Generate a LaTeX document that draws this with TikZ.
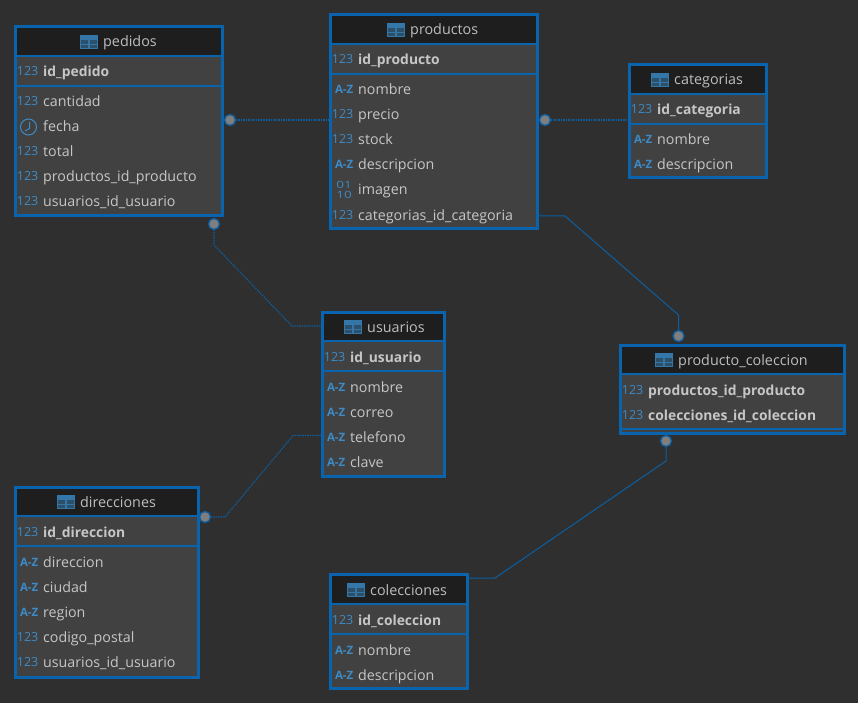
\documentclass[tikz,border=0pt]{standalone}
\usepackage{fontspec}
\setmainfont{Open Sans}
\definecolor{canvasbg}{HTML}{2F2F2F}
\definecolor{headbg}{HTML}{1E1E1E}
\definecolor{bodybg}{HTML}{414141}
\definecolor{borderblue}{HTML}{0A64AD}
\definecolor{relblue}{HTML}{0B5FA2}
\definecolor{iconblue}{HTML}{3D8BC6}
\definecolor{tabletxt}{HTML}{C6C6C6}
\definecolor{titletxt}{HTML}{BEBEBE}
\definecolor{dotgrey}{HTML}{7E7E7E}
\tikzset{
  tablebox/.style={draw=borderblue,line width=3pt,inner sep=0pt,outer sep=0pt,rectangle},
  sepline/.style={draw=borderblue,line width=2.4pt},
  fieldtxt/.style={anchor=base west,inner sep=0pt,text=tabletxt,font=\fontsize{14.25}{16}\selectfont},
  keytxt/.style={anchor=base west,inner sep=0pt,text=tabletxt,font=\fontsize{13.85}{16}\selectfont\bfseries},
  titlenode/.style={anchor=base west,inner sep=0pt,text=titletxt,font=\fontsize{14.35}{16}\selectfont},
  typetxt/.style={anchor=base east,inner sep=0pt,text=iconblue,font=\fontsize{12.5}{16}\selectfont},
  aztxt/.style={anchor=base east,inner sep=0pt,text=iconblue,font=\fontsize{11.5}{16}\selectfont\bfseries},
  bintxt/.style={anchor=center,inner sep=0pt,text=iconblue,font=\fontsize{10}{10}\selectfont},
  reldot/.style={circle,fill=dotgrey,draw=relblue,line width=1.3pt,minimum size=11pt,inner sep=0pt,outer sep=0pt},
  relsolid/.style={draw=relblue,line width=1pt},
  reldotted/.style={draw=relblue,line width=1.1pt,dash pattern=on 1.5pt off 1pt},
}
\newcount\rowc
\newcommand{\erTable}[8]{% name x1 y1 x2 y2 s1 s2 title-unused
  \fill[headbg] (#2,#3) rectangle (#4,#6);
  \fill[bodybg] (#2,#6) rectangle (#4,#5);
  \draw[sepline] (#2,#6) -- (#4,#6);
  \draw[sepline] (#2,#7) -- (#4,#7);
  \pgfmathsetmacro{\bw}{#4-#2}\pgfmathsetmacro{\bh}{#5-#3}
  \pgfmathsetmacro{\cx}{(#2+#4)/2}\pgfmathsetmacro{\cy}{(#3+#5)/2}
  \node[tablebox,minimum width=\bw pt,minimum height=\bh pt] (#1) at (\cx,\cy) {};
}
\newcommand{\erTitle}[3]{% iconx y text
  \begin{scope}[shift={(#1,#2)}]
    \fill[iconblue!85!black] (0,-7) rectangle (18,7);
    \fill[headbg!55!iconblue] (1.3,-2) rectangle (8.4,1.8);
    \fill[headbg!55!iconblue] (9.6,-2) rectangle (16.7,1.8);
    \fill[headbg!55!iconblue] (1.3,2.8) rectangle (8.4,5.8);
    \fill[headbg!55!iconblue] (9.6,2.8) rectangle (16.7,5.8);
  \end{scope}
  \global\advance\rowc by 1
  \pgfmathsetmacro{\tx}{#1+23}\pgfmathsetmacro{\ty}{#2+5}
  \node[titlenode] (t\the\rowc) at (\tx,\ty) {#3};
}
\newcommand{\erField}[4]{% left y style text
  \global\advance\rowc by 1
  \pgfmathsetmacro{\tx}{#1+28}\pgfmathsetmacro{\ty}{#2+5}
  \node[#3] (f\the\rowc) at (\tx,\ty) {#4};
}
\newcommand{\iconNum}[2]{%
  \global\advance\rowc by 1
  \pgfmathsetmacro{\ix}{#1+23.5}\pgfmathsetmacro{\iy}{#2+4}
  \node[typetxt] (i\the\rowc) at (\ix,\iy) {123};
}
\newcommand{\iconAZ}[2]{%
  \global\advance\rowc by 1
  \pgfmathsetmacro{\ix}{#1+23.5}\pgfmathsetmacro{\iy}{#2+4}
  \node[aztxt] (i\the\rowc) at (\ix,\iy) {A-Z};
}
\newcommand{\iconClock}[2]{%
  \begin{scope}[shift={(#1+13.5,#2)}]
    \draw[iconblue,line width=1pt] (0,0) circle (8);
    \draw[iconblue,line width=1pt] (1,-5) -- (1,1.5) -- (-3.5,4);
  \end{scope}
}
\newcommand{\iconBin}[2]{%
  \global\advance\rowc by 1
  \pgfmathsetmacro{\ix}{#1+14}\pgfmathsetmacro{\iya}{#2-5}\pgfmathsetmacro{\iyb}{#2+5}
  \node[bintxt] (i\the\rowc) at (\ix,\iya) {\scalebox{1.35}[1]{01}};
  \global\advance\rowc by 1
  \node[bintxt] (i\the\rowc) at (\ix,\iyb) {\scalebox{1.35}[1]{10}};
}
\newcommand{\numF}[3]{\iconNum{#1}{#2}\erField{#1}{#2}{fieldtxt}{#3}}
\newcommand{\azF}[3]{\iconAZ{#1}{#2}\erField{#1}{#2}{fieldtxt}{#3}}
\newcommand{\keyF}[3]{\iconNum{#1}{#2}\erField{#1}{#2}{keytxt}{#3}}
\begin{document}
\begin{tikzpicture}[x=1pt,y=-1pt]
\useasboundingbox (0,0) rectangle (858,703);
\fill[canvasbg] (0,0) rectangle (858,703);

% pedidos
\erTable{pedidos}{15}{27}{222}{216}{56}{86}{}
\erTitle{80}{42}{pedidos}
\keyF{15}{72}{id\_pedido}
\numF{15}{102}{cantidad}
\iconClock{15}{127}\erField{15}{127}{fieldtxt}{fecha}
\numF{15}{152}{total}
\numF{15}{177}{productos\_id\_producto}
\numF{15}{202}{usuarios\_id\_usuario}

% productos
\erTable{productos}{330}{15}{537}{228}{44}{74}{}
\erTitle{387}{30}{productos}
\keyF{330}{60}{id\_producto}
\azF{330}{90}{nombre}
\numF{330}{115}{precio}
\numF{330}{140}{stock}
\azF{330}{165}{descripcion}
\iconBin{330}{190}\erField{330}{190}{fieldtxt}{imagen}
\numF{330}{215}{categorias\_id\_categoria}

% categorias
\erTable{categorias}{629}{65}{766}{178}{94}{124}{}
\erTitle{651}{80}{categorias}
\keyF{629}{110}{id\_categoria}
\azF{629}{140}{nombre}
\azF{629}{165}{descripcion}

% usuarios
\erTable{usuarios}{322}{312}{444}{476}{341}{371}{}
\erTitle{344}{327}{usuarios}
\keyF{322}{357}{id\_usuario}
\azF{322}{387}{nombre}
\azF{322}{412}{correo}
\azF{322}{437}{telefono}
\azF{322}{462}{clave}

% producto_coleccion
\erTable{prodcol}{620}{345}{844}{433}{374}{429}{}
\erTitle{655}{360}{producto\_coleccion}
\keyF{620}{390}{productos\_id\_producto}
\keyF{620}{415}{colecciones\_id\_coleccion}

% direcciones
\erTable{direcciones}{15}{487}{198}{677}{516}{546}{}
\erTitle{57}{502}{direcciones}
\keyF{15}{532}{id\_direccion}
\azF{15}{562}{direccion}
\azF{15}{587}{ciudad}
\azF{15}{612}{region}
\numF{15}{637}{codigo\_postal}
\numF{15}{662}{usuarios\_id\_usuario}

% colecciones
\erTable{colecciones}{330}{574}{467}{688}{604}{634}{}
\erTitle{347}{590}{colecciones}
\keyF{330}{620}{id\_coleccion}
\azF{330}{650}{nombre}
\azF{330}{675}{descripcion}

% relation end dots
\node[reldot] (dPed) at (230,120) {};
\node[reldot] (dProd) at (545,120) {};
\node[reldot] (dPedB) at (214,224) {};
\node[reldot] (dDir) at (205,517) {};
\node[reldot] (dPcT) at (678.5,336) {};
\node[reldot] (dPcB) at (666,441) {};

% connectors
\draw[reldotted] (dPed) -- (productos.west |- dPed);
\draw[reldotted] (dProd) -- (categorias.west |- dProd);
\draw[reldotted] (dPedB) -- (214,245) -- (292,326) -- (usuarios.west |- 292,326);
\draw[reldotted] (dDir) -- (225,517) -- (293,435.5) -- (usuarios.west |- 293,435.5);
\draw[relsolid] (productos.east |- 565,216) -- (565,216) -- (678.5,315) -- (dPcT);
\draw[relsolid] (dPcB) -- (666,461) -- (495,578) -- (colecciones.east |- 495,578);
\end{tikzpicture}
\end{document}
